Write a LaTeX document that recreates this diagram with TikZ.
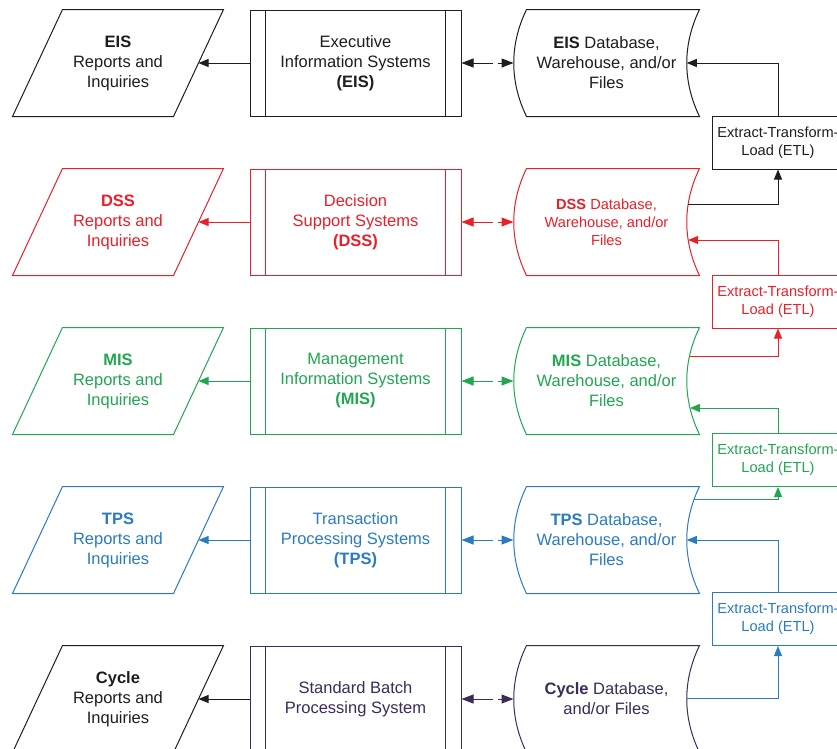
\documentclass[tikz,border=0pt]{standalone}
\usepackage{fontspec}
\setmainfont{Liberation Sans}
\usetikzlibrary{arrows.meta,calc}

\definecolor{cEIS}{HTML}{1E1E1E}
\definecolor{cDSS}{HTML}{E8202A}
\definecolor{cMIS}{HTML}{22A652}
\definecolor{cTPS}{HTML}{2A7BC2}
\definecolor{cCYC}{HTML}{3B2C58}

% slanted input/output frame around a report node
\newcommand\slantframe[2]{%
  \draw[#2] ($(#1.north west)+(25,0)$) -- ($(#1.north east)+(25,0)$)
    -- ($(#1.south east)+(-25,0)$) -- ($(#1.south west)+(-25,0)$) -- cycle;}
% stored-data frame (both sides curved) around a database node
\newcommand\storeframe[2]{%
  \draw[#2] ($(#1.north west)+(13,0)$) .. controls +(-17,35) and +(-17,-35) ..
    ($(#1.south west)+(13,0)$) -- (#1.south east)
    .. controls +(-17,-35) and +(-17,35) .. (#1.north east) -- cycle;}

\begin{document}
\begin{tikzpicture}[x=1pt,y=-1pt,
  line width=1pt,
  >={Triangle[length=10pt,width=8pt]},
  dbl/.style={-{Triangle[length=12pt,width=9pt]}},
  txt/.style={font=\fontsize{16.5}{20}\selectfont, align=center, inner sep=0pt},
  report/.style={txt, minimum width=160pt, minimum height=106pt},
  process/.style={txt, draw, minimum width=211pt, minimum height=106pt,
    path picture={\draw
      ([xshift=15pt]path picture bounding box.north west) --
      ([xshift=15pt]path picture bounding box.south west)
      ([xshift=-16pt]path picture bounding box.north east) --
      ([xshift=-16pt]path picture bounding box.south east);}},
  store/.style={txt, minimum width=185pt, minimum height=106pt},
  etl/.style={draw, font=\fontsize{14.6}{18}\selectfont, align=center,
    inner sep=0pt, minimum width=132pt, minimum height=53pt},
]
\path[use as bounding box, fill=white] (0,0) rectangle (837,748);
\clip (0,0) rectangle (837,748);

% ---------- EIS ----------
\node[report, text=cEIS] (repE) at (118,63) {\textbf{EIS}\\Reports and\\Inquiries};
\slantframe{repE}{cEIS}
\node[process, color=cEIS] (sysE) at (355.5,63) {Executive\\Information Systems\\\textbf{(EIS)}};
\node[store, text=cEIS] (dbE) at (606.5,63) {\textbf{EIS} Database,\\Warehouse, and/or\\Files};
\storeframe{dbE}{cEIS}
\node[etl, color=cEIS] (etlE) at (778,142.5) {Extract-Transform-\\Load (ETL)};

% ---------- DSS ----------
\node[report, text=cDSS] (repD) at (118,222) {\textbf{DSS}\\Reports and\\Inquiries};
\slantframe{repD}{cDSS}
\node[process, color=cDSS] (sysD) at (355.5,222) {Decision\\Support Systems\\\textbf{(DSS)}};
\node[store, text=cDSS, font=\fontsize{14.6}{18}\selectfont] (dbD) at (606.5,222) {\textbf{DSS} Database,\\Warehouse, and/or\\Files};
\storeframe{dbD}{cDSS}
\node[etl, color=cDSS] (etlD) at (778,301.5) {Extract-Transform-\\Load (ETL)};

% ---------- MIS ----------
\node[report, text=cMIS] (repM) at (118,381) {\textbf{MIS}\\Reports and\\Inquiries};
\slantframe{repM}{cMIS}
\node[process, color=cMIS] (sysM) at (355.5,381) {Management\\Information Systems\\\textbf{(MIS)}};
\node[store, text=cMIS] (dbM) at (606.5,381) {\textbf{MIS} Database,\\Warehouse, and/or\\Files};
\storeframe{dbM}{cMIS}
\node[etl, color=cMIS] (etlM) at (778,460) {Extract-Transform-\\Load (ETL)};

% ---------- TPS ----------
\node[report, text=cTPS] (repT) at (118,540) {\textbf{TPS}\\Reports and\\Inquiries};
\slantframe{repT}{cTPS}
\node[process, color=cTPS] (sysT) at (355.5,540) {Transaction\\Processing Systems\\\textbf{(TPS)}};
\node[store, text=cTPS] (dbT) at (606.5,540) {\textbf{TPS} Database,\\Warehouse, and/or\\Files};
\storeframe{dbT}{cTPS}
\node[etl, color=cTPS] (etlT) at (778,619) {Extract-Transform-\\Load (ETL)};

% ---------- Cycle ----------
\node[report, text=cEIS] (repC) at (118,699) {\textbf{Cycle}\\Reports and\\Inquiries};
\slantframe{repC}{cEIS}
\node[process, color=cCYC] (sysC) at (355.5,699) {Standard Batch\\Processing System};
\node[store, text=cCYC] (dbC) at (606.5,699) {\textbf{Cycle} Database,\\and/or Files};
\storeframe{dbC}{cCYC}

% ---------- system -> reports ----------
\draw[->, cEIS] (sysE.west) -- (repE.east);
\draw[->, cDSS] (sysD.west) -- (repD.east);
\draw[->, cMIS] (sysM.west) -- (repM.east);
\draw[->, cTPS] (sysT.west) -- (repT.east);
\draw[->, cEIS] (sysC.west) -- (repC.east);

% ---------- system <-> database ----------
\foreach \s/\d/\c in {sysE/dbE/cEIS, sysD/dbD/cDSS, sysM/dbM/cMIS, sysT/dbT/cTPS, sysC/dbC/cCYC}{
  \draw[dbl, \c] ([xshift=-21pt]\d.west) -- (\s.east);
  \draw[dbl, \c] ([xshift=-16pt]\d.west) -- (\d.west);
}

% ---------- points on the curved right sides ----------
\coordinate (dbE-in)  at ($(dbE.east)+(-12.75,0)$);
\coordinate (dbD-out) at ($(dbD.east)+(-11.4,-18)$);
\coordinate (dbD-in)  at ($(dbD.east)+(-11.4,18)$);
\coordinate (dbM-out) at ($(dbM.east)+(-10,-25)$);
\coordinate (dbM-in)  at ($(dbM.east)+(-9.6,27)$);
\coordinate (dbT-out) at ($(dbT.east)+(-5.3,-41)$);
\coordinate (dbT-in)  at ($(dbT.east)+(-12.75,0)$);
\coordinate (dbC-out) at ($(dbC.east)+(-12.7,-1)$);

% ---------- ETL links ----------
\draw[->, cEIS] (dbD-out) -| (etlE.south);
\draw[->, cEIS] (etlE.north) |- (dbE-in);
\draw[->, cDSS] (dbM-out) -| (etlD.south);
\draw[->, cDSS] (etlD.north) |- (dbD-in);
\draw[->, cMIS] (dbT-out) -| (etlM.south);
\draw[->, cMIS] (etlM.north) |- (dbM-in);
\draw[->, cTPS] (dbC-out) -| (etlT.south);
\draw[->, cTPS] (etlT.north) |- (dbT-in);
\end{tikzpicture}
\end{document}
